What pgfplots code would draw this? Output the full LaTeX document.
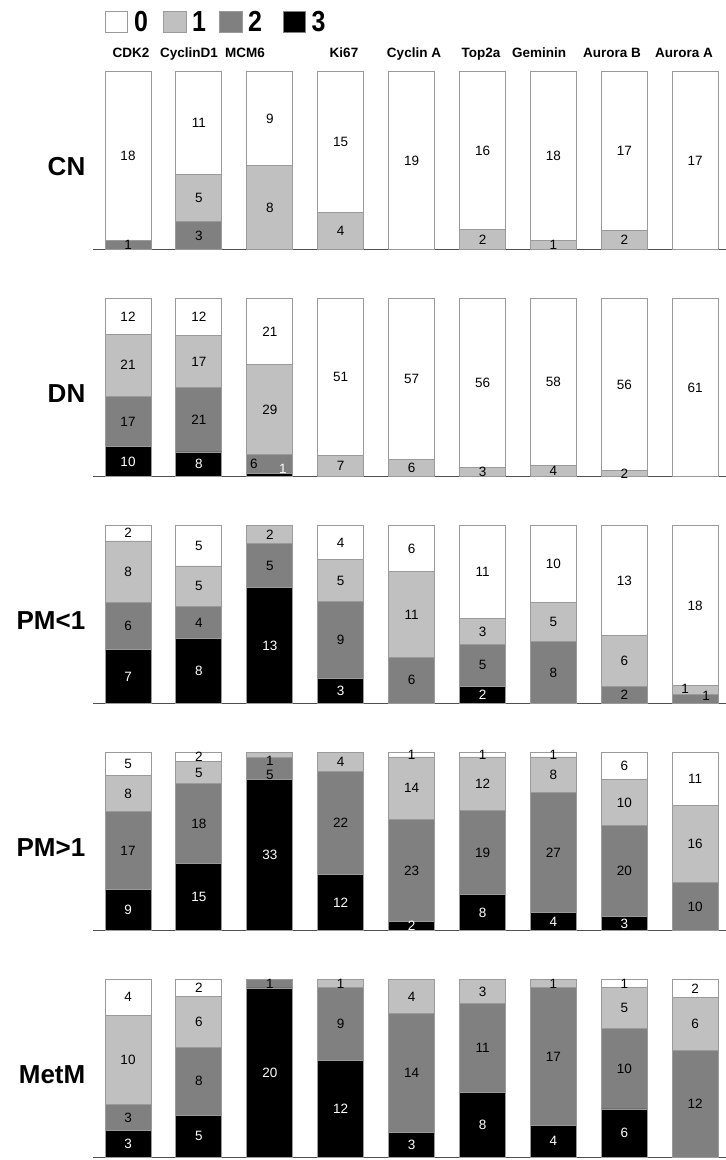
\documentclass[border=0pt]{standalone}
\usepackage{pgfplots}
\usepackage{pgfplotstable}
\pgfplotsset{compat=1.18}
\usepackage{fontspec}
\setmainfont{Liberation Sans}
\usepackage{graphicx}

\definecolor{cw}{HTML}{FFFFFF}
\definecolor{cl}{HTML}{C0C0C0}
\definecolor{cd}{HTML}{808080}
\definecolor{ck}{HTML}{000000}
\definecolor{edge}{HTML}{9A9A9A}
\definecolor{basec}{HTML}{505050}

% x: marker position (0 = CDK2 ... 8 = Aurora A); c3..c0: counts of score 3,2,1,0
% sx/sy: label offsets in px for crowded thin segments
\pgfplotstableread{
x c3 c2 c1 c0 sx3 sy3 sx2 sy2 sx1 sy1 sx0 sy0
0 0 1 0 18 0 0 0 0 0 0 0 0
1 0 3 5 11 0 0 0 0 0 0 0 0
2 0 0 8 9 0 0 0 0 0 0 0 0
3 0 0 4 15 0 0 0 0 0 0 0 0
4 0 0 0 19 0 0 0 0 0 0 0 0
5 0 0 2 16 0 0 0 0 0 0 0 0
6 0 0 1 18 0 0 0 0 0 0 0 0
7 0 0 2 17 0 0 0 0 0 0 0 0
8 0 0 0 17 0 0 0 0 0 0 0 0
}\tCN
\pgfplotstableread{
x c3 c2 c1 c0 sx3 sy3 sx2 sy2 sx1 sy1 sx0 sy0
0 10 17 21 12 0 0 0 0 0 0 0 0
1 8 21 17 12 0 0 0 0 0 0 0 0
2 1 6 29 21 13 6 -16 0 0 0 0 0
3 0 0 7 51 0 0 0 0 0 0 0 0
4 0 0 6 57 0 0 0 0 0 0 0 0
5 0 0 3 56 0 0 0 0 0 0 0 0
6 0 0 4 58 0 0 0 0 0 0 0 0
7 0 0 2 56 0 0 0 0 0 0 0 0
8 0 0 0 61 0 0 0 0 0 0 0 0
}\tDN
\pgfplotstableread{
x c3 c2 c1 c0 sx3 sy3 sx2 sy2 sx1 sy1 sx0 sy0
0 7 6 8 2 0 0 0 0 0 0 0 0
1 8 4 5 5 0 0 0 0 0 0 0 0
2 13 5 2 0 0 0 0 0 0 0 0 0
3 3 9 5 4 0 0 0 0 0 0 0 0
4 0 6 11 6 0 0 0 0 0 0 0 0
5 2 5 3 11 0 0 0 0 0 0 0 0
6 0 8 5 10 0 0 0 0 0 0 0 0
7 0 2 6 13 0 0 0 0 0 0 0 0
8 0 1 1 18 0 0 11 3 -10 1.5 0 0
}\tPMa
\pgfplotstableread{
x c3 c2 c1 c0 sx3 sy3 sx2 sy2 sx1 sy1 sx0 sy0
0 9 17 8 5 0 0 0 0 0 0 0 0
1 15 18 5 2 0 0 0 0 0 0 0 0
2 33 5 1 0 0 0 0 -6 0 -6 0 0
3 12 22 4 0 0 0 0 0 0 0 0 0
4 2 23 14 1 0 0 0 0 0 0 0 0
5 8 19 12 1 0 0 0 0 0 0 0 0
6 4 27 8 1 0 0 0 0 0 0 0 0
7 3 20 10 6 0 0 0 0 0 0 0 0
8 0 10 16 11 0 0 0 0 0 0 0 0
}\tPMb
\pgfplotstableread{
x c3 c2 c1 c0 sx3 sy3 sx2 sy2 sx1 sy1 sx0 sy0
0 3 3 10 4 0 0 0 0 0 0 0 0
1 5 8 6 2 0 0 0 0 0 0 0 0
2 20 1 0 0 0 0 0 0 0 0 0 0
3 12 9 1 0 0 0 0 0 0 0 0 0
4 3 14 4 0 0 0 0 0 0 0 0 0
5 8 11 3 0 0 0 0 0 0 0 0 0
6 4 17 1 0 0 0 0 0 0 0 0 0
7 6 10 5 1 0 0 0 0 0 0 0 0
8 0 12 6 2 0 0 0 0 0 0 0 0
}\tMet

% percentage of each score and a label string "count|dx|dy"
\newcommand\mkcols[2]{%
 \pgfplotstablecreatecol[create col/expr={100*\thisrow{c#2}/(\thisrow{c3}+\thisrow{c2}+\thisrow{c1}+\thisrow{c0})}]{p#2}#1%
 \pgfplotstablecreatecol[create col/assign/.code={%
   \getthisrow{c#2}\ca\getthisrow{sx#2}\cb\getthisrow{sy#2}\cc
   \edef\vv{\ca|\cb|\cc}%
   \pgfkeyslet{/pgfplots/table/create col/next content}\vv}]{m#2}#1%
}
\newcommand\addpct[1]{\mkcols{#1}{3}\mkcols{#1}{2}\mkcols{#1}{1}\mkcols{#1}{0}}
\addpct\tCN
\addpct\tDN
\addpct\tPMa
\addpct\tPMb
\addpct\tMet

\def\lblparse#1|#2|#3|#4\relax{%
  \ifnum#1=0 \else
  \raisebox{#3pt}[\height][\depth]{\makebox[0pt][c]{\hspace*{#2pt}\hspace*{#2pt}#1}}%
  \fi}

\newcommand\seg[4]{%
 \addplot[fill=#3, draw=edge, line width=0.9pt,
   point meta=explicit symbolic,
   nodes near coords={\expandafter\lblparse\pgfplotspointmeta|0|0|\relax},
   every node near coord/.append style={anchor=center, inner sep=0pt,
     font=\fontsize{13.5}{14}\selectfont, text=#4}]
   table[x=x, y=p#2, meta=m#2]{#1};
}

\newcommand\panel[3]{%
\begin{axis}[at={(93pt,-#2pt)}, anchor=south west, scale only axis,
  width=633pt, height=178pt,
  xmin=-0.4937, xmax=8.434, ymin=0, ymax=100,
  ybar stacked, bar width=46pt, clip=false,
  axis x line*=bottom, axis y line=none, xtick=\empty, ytick=\empty,
  x axis line style={draw=basec, line width=1.3pt}]
 \seg{#1}{3}{ck}{white}
 \seg{#1}{2}{cd}{black}
 \seg{#1}{1}{cl}{black}
 \seg{#1}{0}{cw}{black}
\end{axis}
\node[anchor=east, inner sep=0pt, font=\fontsize{26}{26}\selectfont\bfseries]
  at (85.5pt,{-#2pt+82.5pt}) {#3};
}

\begin{document}
\begin{tikzpicture}
\path[use as bounding box] (0pt,0pt) rectangle (726pt,-1160pt);

% legend
\draw[edge, line width=0.9pt, fill=cw] (105pt,-11pt) rectangle (127pt,-32pt);
\draw[edge, line width=0.9pt, fill=cl] (163pt,-11pt) rectangle (186pt,-32pt);
\draw[edge, line width=0.9pt, fill=cd] (219pt,-11pt) rectangle (242pt,-32pt);
\draw[gray, line width=0.9pt, fill=ck] (283pt,-11pt) rectangle (305pt,-32pt);
\foreach \xx/\tt in {141/0, 199/1, 255/2, 318.5/3}
  \node[inner sep=0pt, anchor=center] at (\xx pt,-21.5pt)
   {\scalebox{0.86}[1]{\fontsize{29}{29}\selectfont\bfseries \tt}};

% column headers
\foreach \xx/\tt in {131/CDK2, 189/CyclinD1, 245/MCM6, 344/Ki67, 414/Cyclin A,
    481/Top2a, 539/Geminin, 612/Aurora B, 684/Aurora A}
  \node[anchor=base, inner sep=0pt, font=\fontsize{13.5}{14}\selectfont\bfseries]
   at (\xx pt,-57pt) {\tt};

\panel{\tCN}{249.5}{CN}
\panel{\tDN}{476.5}{DN}
\panel{\tPMa}{703.5}{PM<1}
\panel{\tPMb}{930.5}{PM>1}
\panel{\tMet}{1157.5}{MetM}
\end{tikzpicture}
\end{document}
